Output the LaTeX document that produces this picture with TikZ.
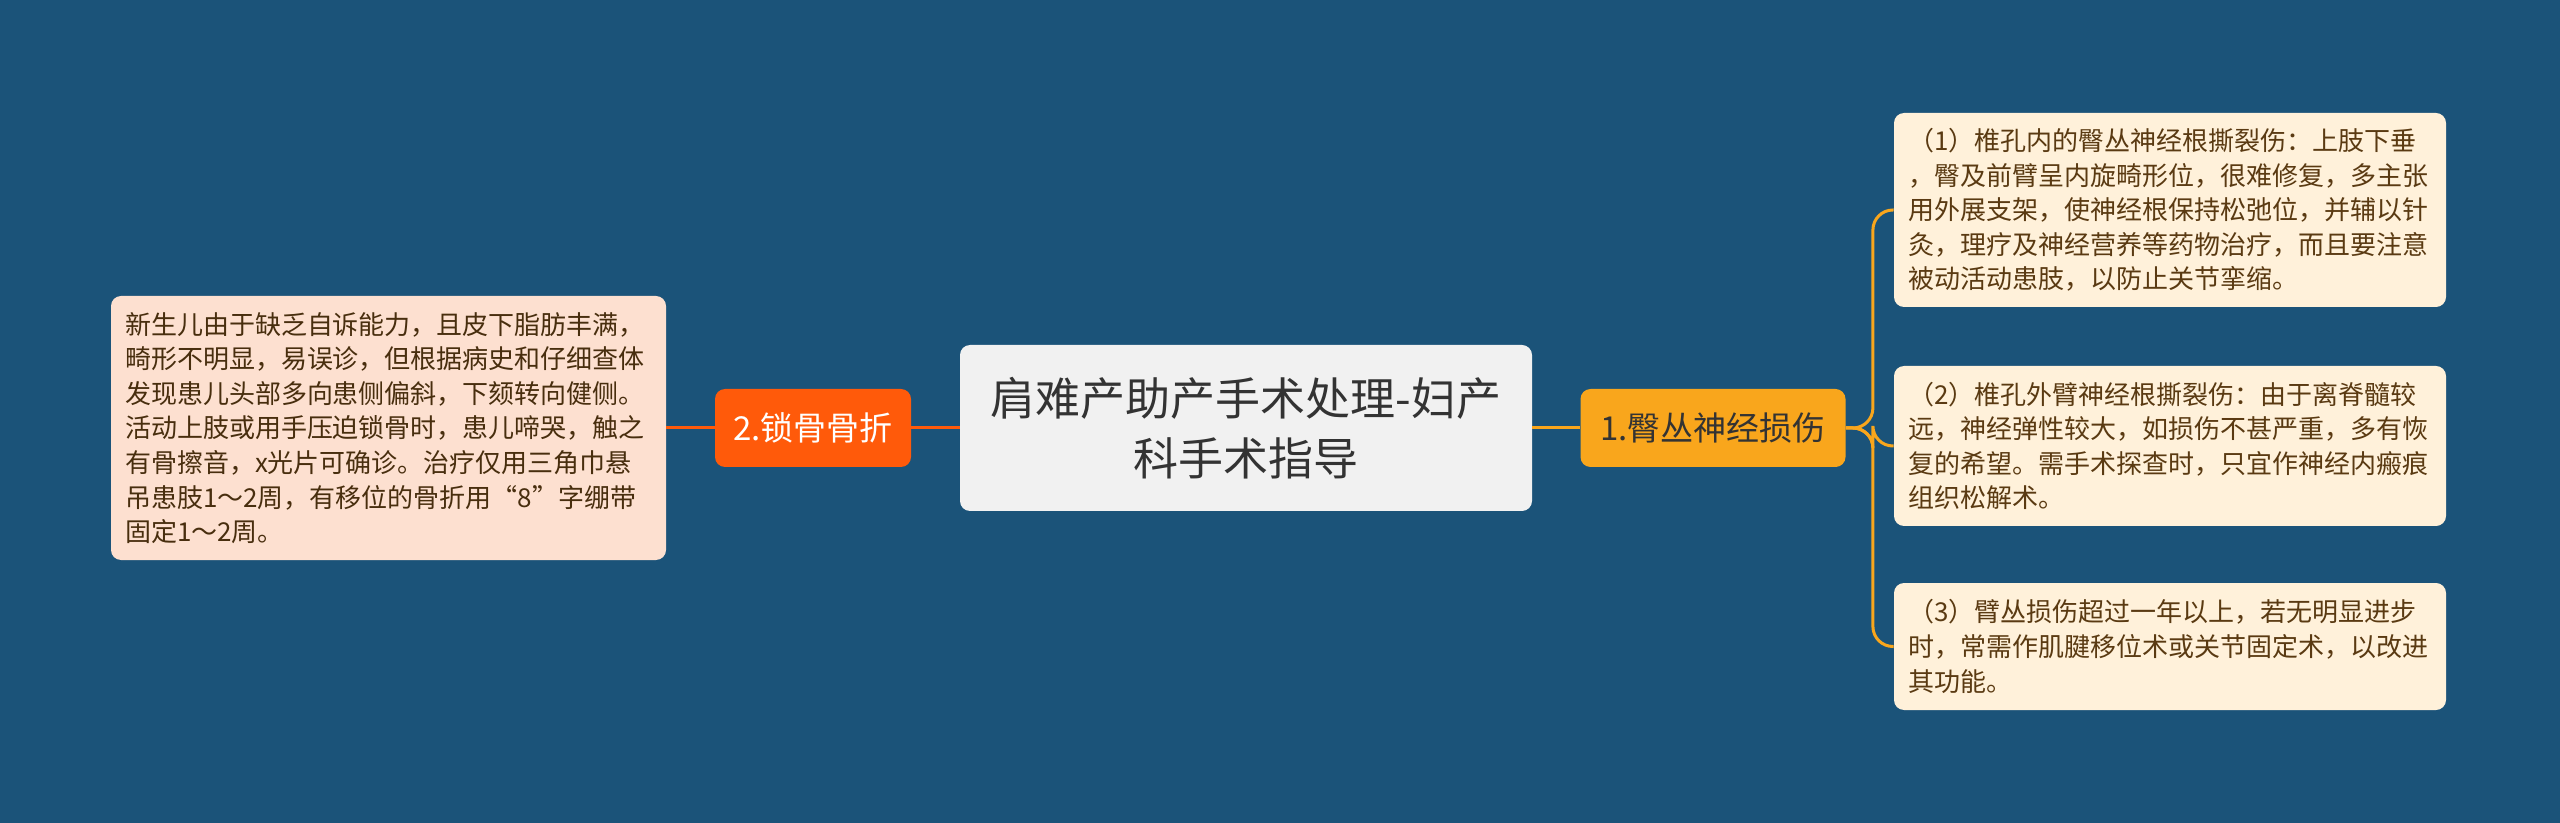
\documentclass[tikz,border=0pt]{standalone}
\usepackage{fontspec}
\setmainfont{Noto Sans CJK SC}
\definecolor{c-bg}{HTML}{1B5379}
\definecolor{c-topic}{HTML}{F1F1F1}
\definecolor{c-gold}{HTML}{F9A61C}
\definecolor{c-flame}{HTML}{FF5A0A}
\definecolor{c-cream}{HTML}{FFF1DA}
\definecolor{c-peach}{HTML}{FDE0D0}
\definecolor{c-brown}{HTML}{5A3A12}
\tikzset{
    topic/.style={rectangle, rounded corners=5pt, fill=c-topic, text=black!80, minimum width=286pt, minimum height=83pt, inner sep=0, align=center, font=\fontsize{22.5}{30}\selectfont},
    gold/.style={rectangle, rounded corners=5pt, fill=c-gold, text=black!80, minimum width=132.5pt, minimum height=39pt, inner sep=0, font=\fontsize{16.5}{20}\selectfont},
    flame/.style={rectangle, rounded corners=5pt, fill=c-flame, text=white, minimum width=98pt, minimum height=39pt, inner sep=0, font=\fontsize{16.5}{20}\selectfont},
    cream/.style={rectangle, rounded corners=5pt, fill=c-cream, text=c-brown, text width=262pt, inner xsep=7pt, inner ysep=0, align=left, font=\fontsize{13}{17.3}\selectfont},
    peach/.style={rectangle, rounded corners=5pt, fill=c-peach, text=c-brown!80!black, text width=263.5pt, inner xsep=7pt, inner ysep=0, align=left, font=\fontsize{13}{17.3}\selectfont},
    glink/.style={draw=c-gold, line width=1.5pt, rounded corners=10pt},
    flink/.style={draw=c-flame, line width=1.5pt}
}
\begin{document}
\begin{tikzpicture}[x=0.5pt, y=-0.5pt]
    \fill[c-bg] (0,0) rectangle (2560,823);
    \useasboundingbox (0,0) rectangle (2560,823);
    % centre and the two branches
    \node[topic] (root) at (1246,428) {肩难产助产手术处理-妇产\\科手术指导};
    \node[gold] (plexus) at (1713,428) {1.臀丛神经损伤};
    \node[flame] (clavicle) at (813,428) {2.锁骨骨折};
    % notes
    \node[cream, minimum height=97pt] (plexusA) at (2170,210) {（1）椎孔内的臀丛神经根撕裂伤：上肢下垂\\，臀及前臂呈内旋畸形位，很难修复，多主张\\用外展支架，使神经根保持松弛位，并辅以针\\灸，理疗及神经营养等药物治疗，而且要注意\\被动活动患肢，以防止关节挛缩。};
    \node[cream, minimum height=80pt] (plexusB) at (2170,446) {（2）椎孔外臂神经根撕裂伤：由于离脊髓较\\远，神经弹性较大，如损伤不甚严重，多有恢\\复的希望。需手术探查时，只宜作神经内瘢痕\\组织松解术。};
    \node[cream, minimum height=63.5pt] (plexusC) at (2170,646.5) {（3）臂丛损伤超过一年以上，若无明显进步\\时，常需作肌腱移位术或关节固定术，以改进\\其功能。};
    \node[peach, minimum height=132pt] (clavicleA) at (388.5,428) {新生儿由于缺乏自诉能力，且皮下脂肪丰满，\\畸形不明显，易误诊，但根据病史和仔细查体\\发现患儿头部多向患侧偏斜，下颏转向健侧。\\活动上肢或用手压迫锁骨时，患儿啼哭，触之\\有骨擦音，x光片可确诊。治疗仅用三角巾悬\\吊患肢1～2周，有移位的骨折用“8”字绷带\\固定1～2周。};
    % connectors
    \draw[glink] (root) -- (plexus);
    \draw[glink] (plexus.east) -- ++(27,0) |- (plexusA.west);
    \draw[glink] (plexus.east) -- ++(27,0) |- (plexusB.west);
    \draw[glink] (plexus.east) -- ++(27,0) |- (plexusC.west);
    \draw[flink] (root) -- (clavicle);
    \draw[flink] (clavicle) -- (clavicleA);
\end{tikzpicture}
\end{document}
